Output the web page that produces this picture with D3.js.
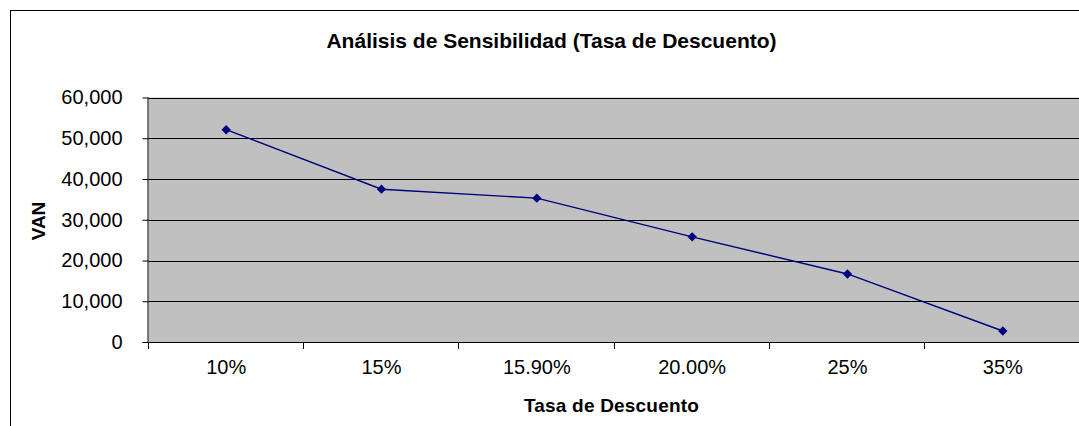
<!DOCTYPE html>
<html>
<head>
<meta charset="utf-8">
<script src="https://cdn.jsdelivr.net/npm/d3@7"></script>
<style>
  html, body { margin: 0; padding: 0; background: #ffffff; }
  svg { display: block; font-family: "Liberation Sans", Arial, sans-serif; }
</style>
</head>
<body>
<svg id="chart" width="1079" height="426"></svg>
<script>
// Discount-rate sensitivity: NPV (VAN) for each rate tested
const rates = ["10%", "15%", "15.90%", "20.00%", "25%", "35%"];
const van = [52100, 37500, 35300, 25800, 16700, 2700];
const yTicks = [0, 10000, 20000, 30000, 40000, 50000, 60000];

const svg = d3.select("#chart");

// chart frame
svg.append("rect")
  .attr("x", 10.5).attr("y", 10.5)
  .attr("width", 1100).attr("height", 500)
  .attr("fill", "#ffffff").attr("stroke", "#000").attr("stroke-width", 1);

const plot = { left: 148.5, top: 97.5, right: 1080.5, bottom: 342 };

const x = d3.scaleBand().domain(rates).range([plot.left, plot.right]).padding(0);
const y = d3.scaleLinear().domain([0, 60000]).range([plot.bottom, plot.top]);

// plot background
svg.append("rect")
  .attr("x", plot.left).attr("y", plot.top)
  .attr("width", plot.right - plot.left).attr("height", plot.bottom - plot.top)
  .attr("fill", "#c0c0c0");

// horizontal gridlines
svg.append("g")
  .selectAll("line")
  .data(yTicks.filter(d => d > 0))
  .join("line")
  .attr("x1", plot.left).attr("x2", plot.right)
  .attr("y1", d => Math.round(y(d)) + 0.5).attr("y2", d => Math.round(y(d)) + 0.5)
  .attr("stroke", "#000").attr("stroke-width", 1);

// y axis
const yAxis = d3.axisLeft(y)
  .tickValues(yTicks)
  .tickSize(6)
  .tickPadding(20)
  .tickFormat(d3.format(",d"));
const gy = svg.append("g").attr("transform", `translate(${plot.left},0)`).call(yAxis);
gy.select(".domain").attr("stroke", "#000").attr("d", `M-0.5,${plot.top}V${plot.bottom}`);
gy.selectAll(".tick line").attr("stroke", "#000");
gy.selectAll(".tick text")
  .attr("font-size", 20).attr("fill", "#000")
  .attr("font-family", "Liberation Sans, Arial, sans-serif");

// x axis with ticks at category boundaries
const gx = svg.append("g").attr("transform", `translate(0,${plot.bottom})`);
gx.append("line")
  .attr("x1", plot.left - 6).attr("x2", plot.right)
  .attr("y1", 0.5).attr("y2", 0.5)
  .attr("stroke", "#000");
const bounds = rates.map(r => x(r)).concat([plot.right]);
gx.selectAll("line.tk")
  .data(bounds)
  .join("line")
  .attr("class", "tk")
  .attr("x1", d => Math.round(d) - 0.5).attr("x2", d => Math.round(d) - 0.5)
  .attr("y1", 0).attr("y2", 7)
  .attr("stroke", "#000");
gx.selectAll("text")
  .data(rates)
  .join("text")
  .attr("x", d => x(d) + x.bandwidth() / 2)
  .attr("y", 32)
  .attr("text-anchor", "middle")
  .attr("font-size", 20)
  .attr("fill", "#000")
  .text(d => d);

// series line and markers
const line = d3.line()
  .x((d, i) => x(rates[i]) + x.bandwidth() / 2)
  .y(d => y(d));
svg.append("path")
  .datum(van)
  .attr("d", line)
  .attr("fill", "none")
  .attr("stroke", "#000080")
  .attr("stroke-width", 1.4);

svg.append("g")
  .selectAll("path")
  .data(van)
  .join("path")
  .attr("d", d3.symbol().type(d3.symbolDiamond2).size(56))
  .attr("transform", (d, i) => `translate(${x(rates[i]) + x.bandwidth() / 2},${y(d)})`)
  .attr("fill", "#000080");

// titles
svg.append("text")
  .attr("x", 551.5).attr("y", 48)
  .attr("text-anchor", "middle")
  .attr("font-size", 21).attr("font-weight", "bold")
  .text("Análisis de Sensibilidad (Tasa de Descuento)");

svg.append("text")
  .attr("x", (plot.left + plot.right) / 2 - 3).attr("y", 412)
  .attr("text-anchor", "middle")
  .attr("font-size", 19).attr("font-weight", "bold")
  .attr("letter-spacing", 0.2)
  .text("Tasa de Descuento");

svg.append("text")
  .attr("transform", `translate(45,221) rotate(-90)`)
  .attr("text-anchor", "middle")
  .attr("font-size", 19).attr("font-weight", "bold")
  .text("VAN");
</script>
</body>
</html>
